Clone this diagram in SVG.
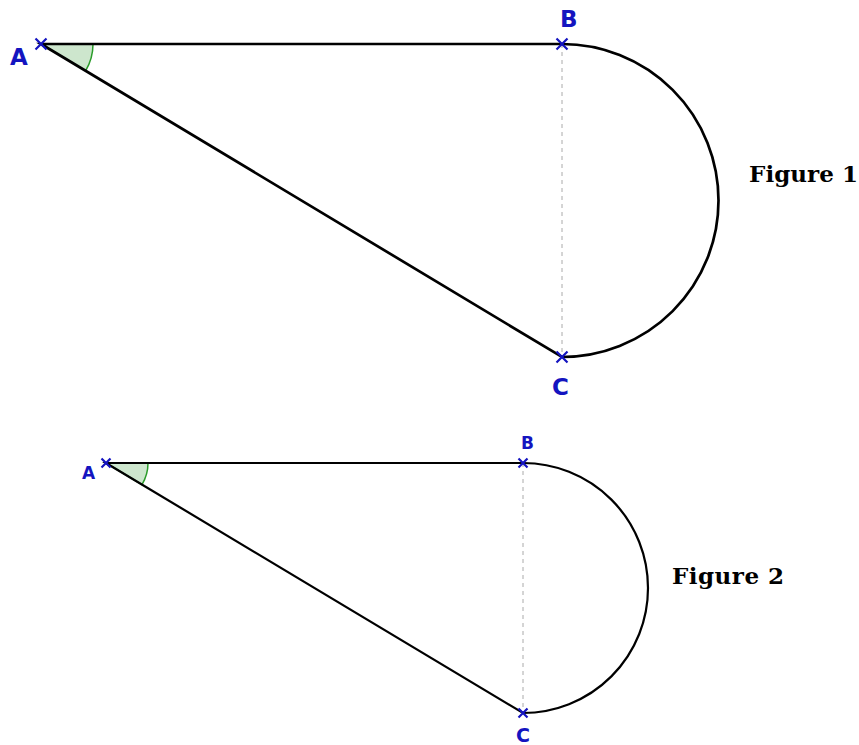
<svg xmlns="http://www.w3.org/2000/svg" width="859" height="745" viewBox="0 0 859 745">
<style>
.seg{fill:none;stroke:#000;stroke-linecap:round}
.dash{stroke:#aaa;stroke-width:1;stroke-dasharray:4,4;fill:none}
.ang{fill:#cde6cd;stroke:#2a9c2a;stroke-width:1.5}
.pt{stroke:#1414c0;stroke-width:2.2;fill:none}
.lbl{font-family:"DejaVu Sans",sans-serif;font-weight:bold;fill:#1414c0}
.fig{font-family:"DejaVu Serif","Liberation Serif",serif;font-weight:bold;fill:#000;font-size:23px}
</style>
<rect width="859" height="745" fill="#fff"/>
<g id="figure1">
  <path class="ang" d="M41,44 L93,44 A52,52 0 0 1 85.6,70.8 Z"/>
  <g id="connectors1">
    <line class="dash" x1="562" y1="44" x2="562" y2="357"/>
    <path class="seg" stroke-width="2.7" d="M41,44 L562,44 A156.5,156.5 0 0 1 562,357 Z"/>
  </g>
  <g id="A1"><path class="pt" d="M35.5,38.5 L46.5,49.5 M46.5,38.5 L35.5,49.5"/><text class="lbl" x="10" y="65" font-size="23">A</text></g>
  <g id="B1"><path class="pt" d="M556.5,38.5 L567.5,49.5 M567.5,38.5 L556.5,49.5"/><text class="lbl" x="560" y="27" font-size="23">B</text></g>
  <g id="C1"><path class="pt" d="M556.5,351.5 L567.5,362.5 M567.5,351.5 L556.5,362.5"/><text class="lbl" x="552" y="395" font-size="23">C</text></g>
  <text class="fig" x="749" y="182" textLength="109">Figure 1</text>
</g>
<g id="figure2">
  <path class="ang" d="M106,463 L148,463 A42,42 0 0 1 142,484.6 Z"/>
  <g id="connectors2">
    <line class="dash" x1="523" y1="463" x2="523" y2="713"/>
    <path class="seg" stroke-width="2.2" d="M106,463 L523,463 A125,125 0 0 1 523,713 Z"/>
  </g>
  <g id="A2"><path class="pt" d="M101.5,458.5 L110.5,467.5 M110.5,458.5 L101.5,467.5"/><text class="lbl" x="82" y="479" font-size="17">A</text></g>
  <g id="B2"><path class="pt" d="M518.5,458.5 L527.5,467.5 M527.5,458.5 L518.5,467.5"/><text class="lbl" x="521" y="449" font-size="17">B</text></g>
  <g id="C2"><path class="pt" d="M518.5,708.5 L527.5,717.5 M527.5,708.5 L518.5,717.5"/><text class="lbl" x="516" y="742" font-size="19">C</text></g>
  <text class="fig" x="672" y="584" textLength="112">Figure 2</text>
</g>
</svg>
